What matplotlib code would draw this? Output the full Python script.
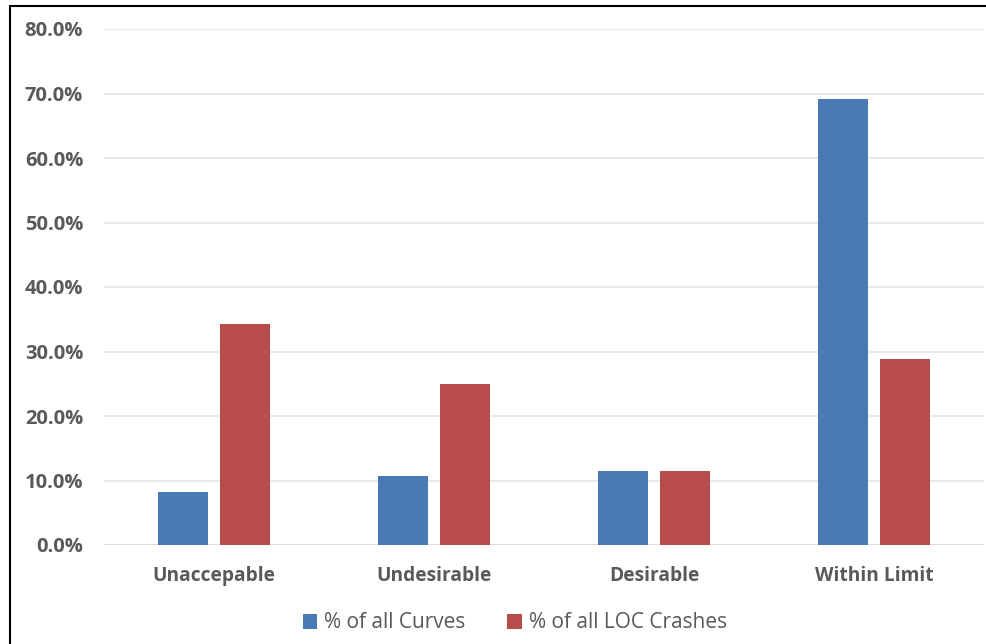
import matplotlib.pyplot as plt
import matplotlib.patches as patches
import numpy as np
from matplotlib.ticker import FuncFormatter

## data
categories = ['Unaccepable', 'Undesirable', 'Desirable', 'Within Limit']
curves = [8.2, 10.7, 11.5, 69.1]
loc_crashes = [34.3, 25.0, 11.5, 28.8]
series_names = ['% of all Curves', '% of all LOC Crashes']

plt.rcParams['font.family'] = ['Open Sans', 'DejaVu Sans']

W, H = 987, 644
fig = plt.figure(figsize=(W / 100, H / 100), dpi=100)
ax = fig.add_axes([104 / W, 1 - 545 / H, 880 / W, 516 / H])

ind = np.arange(len(categories))
width = 50 / 220.
gap = 12 / 220.
ax.bar(ind - (width + gap) / 2, curves, width, color='#4a7ab3', label=series_names[0], zorder=3)
ax.bar(ind + (width + gap) / 2, loc_crashes, width, color='#b84c4a', label=series_names[1], zorder=3)

ax.set_xlim(-0.5, len(categories) - 0.5)
ax.set_ylim(0, 80)
ax.set_yticks(np.arange(0, 81, 10))
ax.yaxis.set_major_formatter(FuncFormatter(lambda v, p: '%.1f%%' % v))
ax.set_xticks(ind)
ax.set_xticklabels(categories)

ax.grid(axis='y', color='#e6e6e6', linewidth=1.2, zorder=0)
for s in ax.spines.values():
    s.set_visible(False)
ax.axhline(0, color='#d9d9d9', linewidth=1.2, zorder=2)
ax.tick_params(length=0)
ax.tick_params(axis='y', pad=15, labelsize=14.5, labelcolor='#595959')
ax.tick_params(axis='x', pad=15, labelsize=13.8, labelcolor='#595959')
for lab in ax.get_xticklabels() + ax.get_yticklabels():
    lab.set_fontweight('bold')

fig.legend(loc='center', bbox_to_anchor=(515 / W, 1 - 623 / H), ncol=2, frameon=False,
           handlelength=0.7, handleheight=0.7, handletextpad=0.35, columnspacing=2.0,
           fontsize=15, labelcolor='#595959')

## black frame around the chart
fig.patches.append(patches.Rectangle((10 / W, -0.02), 1.1, 1 - 6 / H + 0.02,
                                     transform=fig.transFigure, fill=False,
                                     edgecolor='black', linewidth=1.5))

plt.savefig('out.png', dpi=100)
